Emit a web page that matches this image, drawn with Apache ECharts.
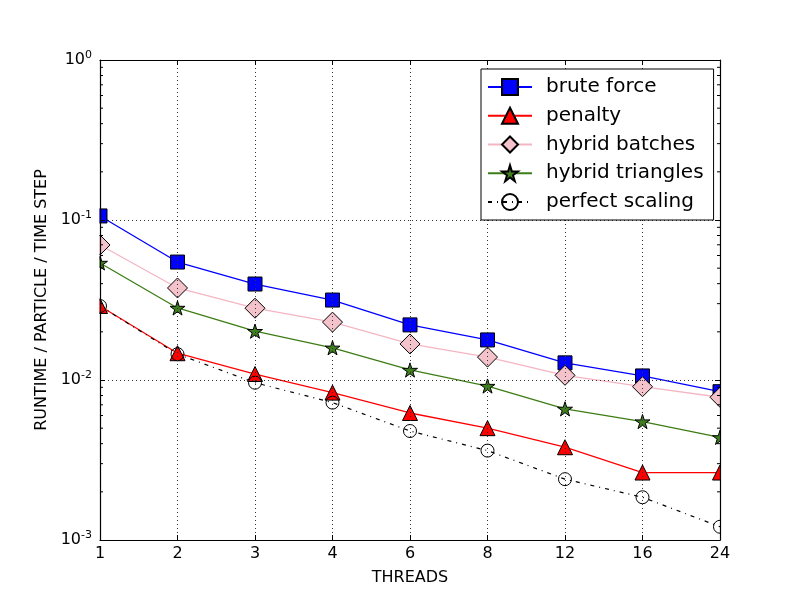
<!DOCTYPE html>
<html lang="en">
<head>
  <meta charset="UTF-8">
  <title>Runtime per particle per time step</title>
  <style>
    html, body { margin: 0; padding: 0; background: #fff; }
  </style>
</head>
<body>
  <div id="main" style="width: 800px;height:600px;"></div>

  <script src="https://cdn.jsdelivr.net/npm/echarts@6/dist/echarts.min.js"></script>
  <script>
    // thread counts (x categories)
    let threads = ['1', '2', '3', '4', '6', '8', '12', '16', '24'];
    // runtime / particle / time step
    let bruteForce = [0.106, 0.0546, 0.0398, 0.0316, 0.0221, 0.0178, 0.0128, 0.0106, 0.00845];
    let penalty = [0.029, 0.0147, 0.0109, 0.00834, 0.00622, 0.0050, 0.0038, 0.00264, 0.00264];
    let hybridBatches = [0.0698, 0.0376, 0.0281, 0.0230, 0.0168, 0.0139, 0.0107, 0.00908, 0.0078];
    let hybridTriangles = [0.0539, 0.0282, 0.0202, 0.0159, 0.01155, 0.00917, 0.0066, 0.0055, 0.00438];
    let perfectScaling = [0.029, 0.0145, 0.00962, 0.00722, 0.0048, 0.00362, 0.0024, 0.00185, 0.00121];
    // minor tick values of the log axis
    let minorTicks = [
      0.002, 0.003, 0.004, 0.005, 0.006, 0.007, 0.008, 0.009,
      0.02, 0.03, 0.04, 0.05, 0.06, 0.07, 0.08, 0.09,
      0.2, 0.3, 0.4, 0.5, 0.6, 0.7, 0.8, 0.9
    ];

    let font = 'DejaVu Sans';
    let gridBox = { left: 100, right: 80, top: 60, bottom: 60 };
    let starPath = 'path://M50,0 L61,35 L98,35 L68,57 L79,91 L50,70 L21,91 L32,57 L2,35 L39,35 Z';

    let chart = echarts.init(document.getElementById('main'));

    function expLabel(v) {
      let e = Math.round(Math.log10(v));
      return '{b|10}{s|' + e + '}';
    }

    function lineSeries(name, data, opt) {
      return {
        type: 'line',
        name: name,
        data: data,
        xAxisIndex: 0,
        yAxisIndex: 0,
        z: 2,
        symbol: opt.symbol,
        symbolSize: opt.size,
        symbolKeepAspect: true,
        showAllSymbol: true,
        animation: false,
        lineStyle: { color: opt.line, width: opt.width || 1.3, type: opt.dash || 'solid' },
        itemStyle: { color: opt.fill, borderColor: '#000', borderWidth: 1 },
        emphasis: { disabled: true }
      };
    }

    let sideAxis = {
      axisLine: { show: true, lineStyle: { color: '#000', width: 1.2 } },
      axisTick: { show: true, inside: true, length: 5, lineStyle: { color: '#000' } },
      axisLabel: { show: false },
      splitLine: { show: false }
    };

    let option = {
      backgroundColor: '#fff',
      animation: false,
      textStyle: { fontFamily: font },
      grid: {
        left: gridBox.left, right: gridBox.right, top: gridBox.top, bottom: gridBox.bottom,
        containLabel: false
      },
      legend: {
        orient: 'vertical',
        left: 481,
        top: 69,
        z: 20,
        backgroundColor: '#fff',
        borderColor: '#000',
        borderWidth: 1,
        borderRadius: 0,
        padding: [8, 10, 8, 6],
        itemWidth: 44,
        itemHeight: 20,
        itemGap: 8.75,
        selectedMode: false,
        textStyle: { fontFamily: font, fontSize: 20, color: '#000', lineHeight: 20, padding: [0, 0, 0, 9] },
        data: ['brute force', 'penalty', 'hybrid batches', 'hybrid triangles', 'perfect scaling']
      },
      xAxis: [{
        type: 'category',
        data: threads,
        boundaryGap: false,
        position: 'bottom',
        z: 10,
        name: 'THREADS',
        nameLocation: 'middle',
        nameGap: 30,
        nameTextStyle: { fontFamily: font, fontSize: 16, color: '#000' },
        axisLine: { show: true, lineStyle: { color: '#000', width: 1.2 } },
        axisTick: { show: true, inside: true, length: 5, alignWithLabel: true, lineStyle: { color: '#000' } },
        axisLabel: { fontFamily: font, fontSize: 16, color: '#000', margin: 6 },
        splitLine: { show: true, lineStyle: { color: '#333', width: 1, type: [1, 3] } }
      }, Object.assign({
        type: 'category',
        data: threads,
        boundaryGap: false,
        position: 'top',
        z: 10
      }, sideAxis)],
      yAxis: [{
        type: 'log',
        logBase: 10,
        min: 0.001,
        max: 1,
        position: 'left',
        z: 10,
        name: 'RUNTIME / PARTICLE / TIME STEP',
        nameLocation: 'middle',
        nameGap: 50,
        nameTextStyle: { fontFamily: font, fontSize: 16, color: '#000' },
        axisLine: { show: true, lineStyle: { color: '#000', width: 1.2 } },
        axisTick: { show: true, inside: true, length: 5, lineStyle: { color: '#000' } },
        axisLabel: {
          margin: 8,
          formatter: expLabel,
          rich: {
            b: { fontFamily: font, fontSize: 16, color: '#000', lineHeight: 20 },
            s: { fontFamily: font, fontSize: 11, color: '#000', lineHeight: 12, verticalAlign: 'top' }
          }
        },
        splitLine: { show: true, lineStyle: { color: '#333', width: 1, type: [1, 3] } }
      }, Object.assign({
        type: 'log',
        logBase: 10,
        min: 0.001,
        max: 1,
        position: 'right',
        z: 10
      }, sideAxis)],
      // white strips just outside the plot so edge markers look clipped
      graphic: {
        elements: [{
          type: 'rect', z: 5, silent: true,
          shape: { x: gridBox.left - 16, y: gridBox.top - 16, width: 15.4, height: 600 - gridBox.top - gridBox.bottom + 32 },
          style: { fill: '#fff' }
        }, {
          type: 'rect', z: 5, silent: true,
          shape: { x: 800 - gridBox.right + 0.6, y: gridBox.top - 16, width: 16, height: 600 - gridBox.top - gridBox.bottom + 32 },
          style: { fill: '#fff' }
        }]
      },
      series: [
        lineSeries('brute force', bruteForce, { symbol: 'rect', size: 14, line: '#0000ff', fill: '#0000ff' }),
        lineSeries('penalty', penalty, { symbol: 'triangle', size: 15, line: '#ff0000', fill: '#ff0000' }),
        lineSeries('hybrid batches', hybridBatches, { symbol: 'diamond', size: 20, line: '#f4b6c2', fill: '#f4c2cb' }),
        lineSeries('hybrid triangles', hybridTriangles, { symbol: starPath, size: 15, line: '#3c7d14', fill: '#3f7f1f' }),
        lineSeries('perfect scaling', perfectScaling, { symbol: 'circle', size: 13, line: '#000', fill: 'rgba(255,255,255,0)', width: 1.2, dash: [4, 5, 1, 5] }),
        {
          // minor ticks of the log axis, on the left and right spines
          type: 'custom',
          name: 'minor ticks',
          xAxisIndex: 0,
          yAxisIndex: 0,
          z: 12,
          silent: true,
          clip: false,
          data: minorTicks.map(v => [0, v]),
          renderItem: (params, api) => {
            let left = api.coord([0, api.value(1)]);
            let right = api.coord([threads.length - 1, api.value(1)]);
            return {
              type: 'group',
              children: [{
                type: 'line',
                shape: { x1: left[0], y1: left[1], x2: left[0] + 3, y2: left[1] },
                style: { stroke: '#000', lineWidth: 1 }
              }, {
                type: 'line',
                shape: { x1: right[0] - 3, y1: right[1], x2: right[0], y2: right[1] },
                style: { stroke: '#000', lineWidth: 1 }
              }]
            };
          }
        }
      ]
    };

    chart.setOption(option);
  </script>
</body>
</html>
